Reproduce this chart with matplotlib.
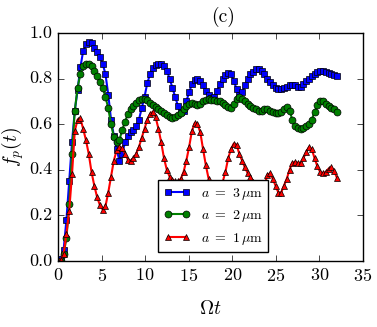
import numpy as np
import matplotlib
matplotlib.use("Agg")
import matplotlib.pyplot as plt

plt.style.use("classic")
plt.rcParams["font.family"] = "serif"
plt.rcParams["font.serif"] = ["cmr10"]
plt.rcParams["mathtext.fontset"] = "cm"
plt.rcParams["axes.formatter.use_mathtext"] = True

# time grid (Omega t)
t = np.linspace(0, 32, 101)

# a = 3 um
f_a3 = [0.00, 0.01, 0.05, 0.18, 0.35, 0.52, 0.66, 0.75, 0.85, 0.92,
        0.95, 0.96, 0.955, 0.935, 0.915, 0.895, 0.865, 0.82, 0.73, 0.62,
        0.55, 0.49, 0.44, 0.47, 0.52, 0.55, 0.565, 0.575, 0.59, 0.62,
        0.67, 0.72, 0.78, 0.82, 0.845, 0.86, 0.865, 0.865, 0.855, 0.835,
        0.80, 0.76, 0.72, 0.68, 0.655, 0.66, 0.70, 0.74, 0.775, 0.795,
        0.80, 0.79, 0.77, 0.745, 0.73, 0.715, 0.72, 0.745, 0.775, 0.80,
        0.815, 0.825, 0.82, 0.79, 0.755, 0.73, 0.74, 0.77, 0.80, 0.82,
        0.83, 0.84, 0.84, 0.835, 0.82, 0.80, 0.785, 0.77, 0.76, 0.755,
        0.755, 0.76, 0.765, 0.77, 0.77, 0.77, 0.765, 0.765, 0.775, 0.79,
        0.80, 0.81, 0.82, 0.83, 0.835, 0.835, 0.83, 0.825, 0.82, 0.815,
        0.81]

# a = 2 um
f_a2 = [0.00, 0.00, 0.03, 0.10, 0.25, 0.47, 0.66, 0.76, 0.82, 0.855,
        0.865, 0.865, 0.855, 0.835, 0.81, 0.785, 0.76, 0.72, 0.67, 0.60,
        0.545, 0.52, 0.53, 0.575, 0.61, 0.645, 0.665, 0.68, 0.695, 0.705,
        0.71, 0.71, 0.705, 0.695, 0.685, 0.675, 0.665, 0.66, 0.65, 0.64,
        0.63, 0.625, 0.63, 0.64, 0.65, 0.665, 0.68, 0.69, 0.695, 0.69,
        0.685, 0.69, 0.70, 0.705, 0.71, 0.705, 0.705, 0.70, 0.70, 0.695,
        0.685, 0.675, 0.67, 0.69, 0.71, 0.72, 0.71, 0.70, 0.69, 0.68,
        0.67, 0.665, 0.66, 0.66, 0.665, 0.665, 0.66, 0.655, 0.65, 0.65,
        0.655, 0.665, 0.675, 0.66, 0.62, 0.59, 0.585, 0.58, 0.585, 0.59,
        0.60, 0.62, 0.655, 0.685, 0.70, 0.70, 0.69, 0.68, 0.67, 0.665,
        0.655]

# a = 1 um
f_a1 = [0.00, 0.005, 0.03, 0.12, 0.22, 0.38, 0.57, 0.62, 0.625, 0.58,
        0.53, 0.47, 0.39, 0.33, 0.28, 0.245, 0.225, 0.24, 0.30, 0.37,
        0.44, 0.485, 0.50, 0.495, 0.47, 0.445, 0.44, 0.45, 0.47, 0.50,
        0.54, 0.58, 0.62, 0.645, 0.655, 0.63, 0.58, 0.52, 0.45, 0.40,
        0.37, 0.355, 0.35, 0.35, 0.36, 0.39, 0.44, 0.50, 0.57, 0.605,
        0.60, 0.565, 0.49, 0.42, 0.36, 0.32, 0.305, 0.305, 0.315, 0.345,
        0.39, 0.45, 0.49, 0.515, 0.51, 0.47, 0.44, 0.41, 0.385, 0.37,
        0.345, 0.315, 0.295, 0.285, 0.33, 0.375, 0.385, 0.36, 0.33, 0.30,
        0.30, 0.33, 0.36, 0.40, 0.43, 0.435, 0.43, 0.43, 0.45, 0.48,
        0.50, 0.49, 0.45, 0.415, 0.39, 0.385, 0.39, 0.405, 0.41, 0.395,
        0.365]

labels = [r"$a\ =\ 3\,\mu\mathrm{m}$", r"$a\ =\ 2\,\mu\mathrm{m}$",
          r"$a\ =\ 1\,\mu\mathrm{m}$"]

fig = plt.figure(figsize=(3.77, 3.27), dpi=100, facecolor="white")
ax = fig.add_axes([0.154, 0.202, 0.809, 0.697])

ax.plot(t, f_a3, "b-s", lw=1.5, ms=5, mew=0.5, label=labels[0])
ax.plot(t, f_a2, "g-o", lw=1.5, ms=5, mew=0.5, label=labels[1])
ax.plot(t, f_a1, "r-^", lw=1.5, ms=5, mew=0.5, label=labels[2])

ax.set_xlim(0, 35)
ax.set_ylim(0, 1.0)
ax.set_xticks([0, 5, 10, 15, 20, 25, 30, 35])
ax.set_yticks([0.0, 0.2, 0.4, 0.6, 0.8, 1.0])
ax.set_yticklabels(["0.0", "0.2", "0.4", "0.6", "0.8", "1.0"])
ax.tick_params(labelsize=13)

ax.set_xlabel(r"$\Omega t$", fontsize=14, labelpad=12)
ax.set_ylabel(r"$f_p(t)$", fontsize=14, labelpad=2)
fig.text(0.592, 0.948, "(c)", fontsize=14, ha="center", va="center")

ax.legend(loc="lower left", bbox_to_anchor=(0.328, 0.039), borderaxespad=0,
          fontsize=10, numpoints=2, handlelength=1.9, handletextpad=0.8,
          labelspacing=0.45, fancybox=False)

fig.savefig("out.png", dpi=100, facecolor="white")
